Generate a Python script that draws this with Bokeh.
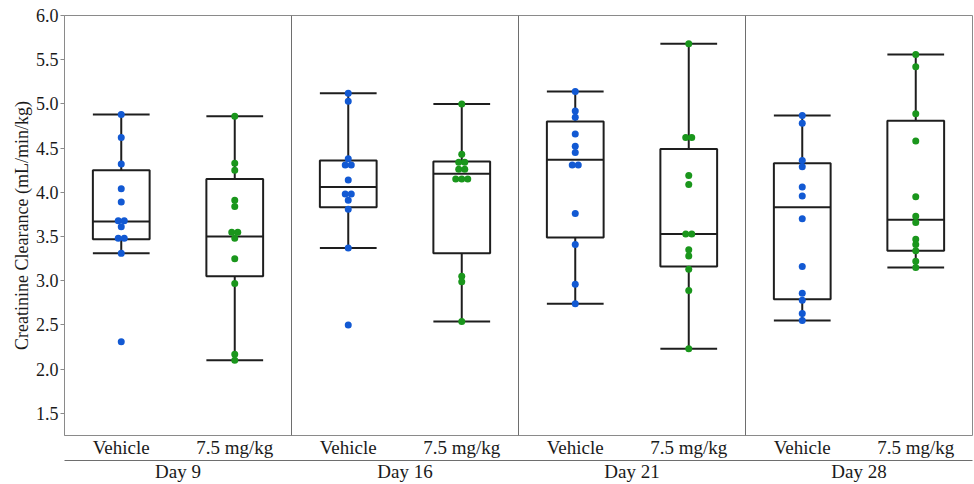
from bokeh.plotting import figure
from bokeh.models import (Span, LinearAxis, FixedTicker, PrintfTickFormatter,
                          Range1d)
from bokeh.embed import file_html
from bokeh.resources import INLINE

# ---------------- data ----------------
days = ["Day 9", "Day 16", "Day 21", "Day 28"]
groups = ["Vehicle", "7.5 mg/kg"]

d9_vehicle = [4.88, 4.62, 4.32, 4.04, 3.89, 3.68, 3.68, 3.61, 3.48, 3.48, 3.31, 2.31]
d9_dose = [4.86, 4.33, 4.25, 3.91, 3.84, 3.55, 3.55, 3.48, 3.25, 2.97, 2.17, 2.10]
d16_vehicle = [5.12, 5.03, 4.38, 4.31, 4.31, 4.14, 3.98, 3.98, 3.91, 3.81, 3.37, 2.50]
d16_dose = [5.00, 4.43, 4.34, 4.34, 4.26, 4.26, 4.15, 4.15, 4.15, 3.05, 2.99, 2.54]
d21_vehicle = [5.14, 4.92, 4.85, 4.66, 4.52, 4.45, 4.31, 4.31, 3.76, 3.41, 2.96, 2.74]
d21_dose = [5.68, 4.62, 4.62, 4.19, 4.09, 3.53, 3.53, 3.35, 3.28, 3.13, 2.89, 2.23]
d28_vehicle = [4.87, 4.78, 4.36, 4.29, 4.06, 3.96, 3.70, 3.16, 2.86, 2.78, 2.63, 2.55]
d28_dose = [5.56, 5.42, 4.89, 4.58, 3.95, 3.73, 3.66, 3.47, 3.41, 3.34, 3.22, 3.15]

# box statistics (order: day, then group)
q1 = [3.47, 3.05, 3.83, 3.31, 3.49, 3.16, 2.79, 3.34]
median = [3.67, 3.50, 4.06, 4.21, 4.37, 3.53, 3.83, 3.69]
q3 = [4.25, 4.15, 4.36, 4.35, 4.80, 4.49, 4.33, 4.81]
whisker_low = [3.31, 2.10, 3.37, 2.54, 2.74, 2.23, 2.55, 3.15]
whisker_high = [4.88, 4.86, 5.12, 5.00, 5.14, 5.68, 4.87, 5.56]

y_ticks = [1.5, 2.0, 2.5, 3.0, 3.5, 4.0, 4.5, 5.0, 5.5, 6.0]

series = [d9_vehicle, d9_dose, d16_vehicle, d16_dose,
          d21_vehicle, d21_dose, d28_vehicle, d28_dose]

# ---------------- styling ----------------
FONT = "Liberation Serif"
GROUP_COLORS = ["#1259d3", "#1a961c"]
BOX_COLOR = "#1e1e1e"
FRAME_COLOR = "#8a8a8a"
TEXT_COLOR = "#1a1a1a"

n_g = len(groups)
n_slots = len(days) * n_g
# category slot centres (one unit per category, days grouped)
slot_x = [di * n_g + gi + 0.5 for di in range(len(days)) for gi in range(n_g)]
slot_group = [gi for di in range(len(days)) for gi in range(n_g)]
day_x = [di * n_g + n_g / 2 for di in range(len(days))]

p = figure(x_range=Range1d(0, n_slots), y_range=Range1d(1.25, 6.0),
           width=974, height=484,
           output_backend="svg", toolbar_location=None,
           min_border_left=64, min_border_right=2, min_border_top=15,
           min_border_bottom=0)

p.xgrid.grid_line_color = None
p.ygrid.grid_line_color = None
p.outline_line_color = FRAME_COLOR
p.outline_line_width = 1
p.background_fill_color = "white"
p.border_fill_color = "white"

# panel dividers
for k in range(1, len(days)):
    p.add_layout(Span(location=k * n_g, dimension="height",
                      line_color="#6e6e6e", line_width=1))

half = 0.25
left = [x - half for x in slot_x]
right = [x + half for x in slot_x]
# boxes
p.vbar(x=slot_x, top=q3, bottom=q1, width=2 * half, fill_color="white",
       line_color=BOX_COLOR, line_width=2)
# median
p.segment(x0=left, x1=right, y0=median, y1=median,
          line_color=BOX_COLOR, line_width=2)
# whiskers
p.segment(x0=slot_x, x1=slot_x, y0=q3, y1=whisker_high,
          line_color=BOX_COLOR, line_width=2)
p.segment(x0=slot_x, x1=slot_x, y0=q1, y1=whisker_low,
          line_color=BOX_COLOR, line_width=2)
# caps
p.segment(x0=left, x1=right, y0=whisker_high, y1=whisker_high,
          line_color=BOX_COLOR, line_width=2)
p.segment(x0=left, x1=right, y0=whisker_low, y1=whisker_low,
          line_color=BOX_COLOR, line_width=2)


def swarm_offsets(vals, step=0.053):
    offs = []
    for i, v in enumerate(vals):
        same = [j for j, w in enumerate(vals) if abs(w - v) < 1e-9]
        k = same.index(i)
        n = len(same)
        offs.append((k - (n - 1) / 2) * step)
    return offs


for xc, gi, vals in zip(slot_x, slot_group, series):
    xs = [xc + o for o in swarm_offsets(vals)]
    p.scatter(x=xs, y=vals, size=7, fill_color=GROUP_COLORS[gi],
              line_color=None)

# y axis
yax = p.yaxis[0]
yax.ticker = FixedTicker(ticks=y_ticks)
yax.formatter = PrintfTickFormatter(format="%.1f")
yax.minor_tick_line_color = None
yax.major_tick_out = 4
yax.major_tick_in = 0
yax.major_tick_line_color = FRAME_COLOR
yax.axis_line_color = FRAME_COLOR
yax.major_label_text_font = FONT
yax.major_label_text_font_size = "18px"
yax.major_label_text_color = TEXT_COLOR
yax.major_label_standoff = 2
yax.axis_label = "Creatinine Clearance (mL/min/kg)"
yax.axis_label_text_font = FONT
yax.axis_label_text_font_size = "18px"
yax.axis_label_text_font_style = "normal"
yax.axis_label_text_color = TEXT_COLOR
yax.axis_label_standoff = 1

# x axis (group names)
xax = p.xaxis[0]
xax.ticker = FixedTicker(ticks=slot_x)
xax.major_label_overrides = {x: groups[g] for x, g in zip(slot_x, slot_group)}
xax.axis_line_color = None
xax.major_tick_line_color = None
xax.major_tick_out = 0
xax.major_tick_in = 0
xax.minor_tick_line_color = None
xax.major_label_text_font = FONT
xax.major_label_text_font_size = "19px"
xax.major_label_text_color = TEXT_COLOR
xax.major_label_standoff = 1

# second x axis (days)
dax = LinearAxis(ticker=FixedTicker(ticks=day_x),
                 major_label_overrides={x: d for x, d in zip(day_x, days)})
dax.axis_line_color = "#6e6e6e"
dax.axis_line_width = 1
dax.major_tick_line_color = None
dax.major_tick_out = 0
dax.major_tick_in = 0
dax.minor_tick_line_color = None
dax.major_label_text_font = FONT
dax.major_label_text_font_size = "19px"
dax.major_label_text_color = TEXT_COLOR
dax.major_label_standoff = 0
p.add_layout(dax, "below")

open("out.html", "w").write(file_html(p, INLINE))
